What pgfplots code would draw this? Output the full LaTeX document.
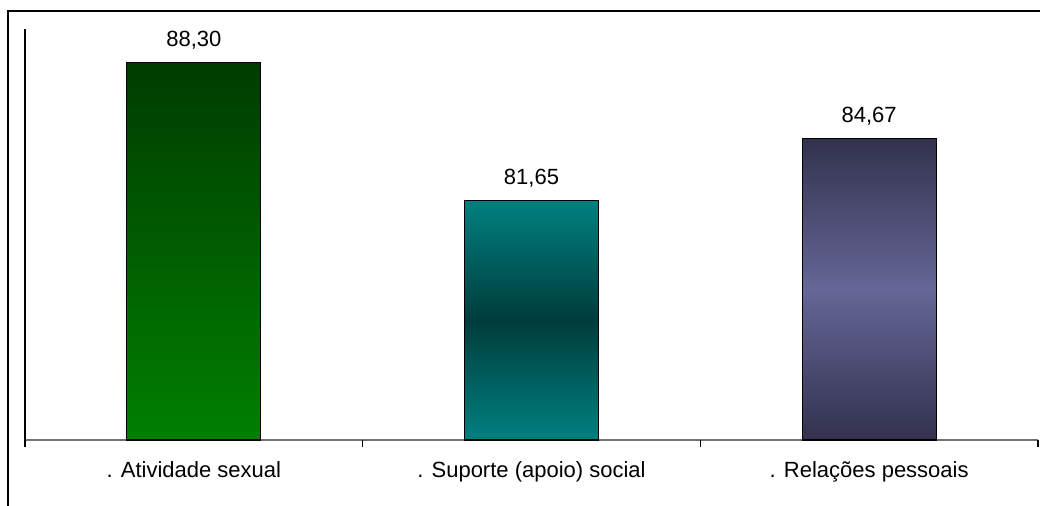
\documentclass[border=0pt]{standalone}
\usepackage{pgfplots}
\pgfplotsset{compat=1.18}
\usepackage{fontspec}
\setmainfont{Liberation Sans}

\definecolor{grnTop}{RGB}{0,60,0}
\definecolor{grnBot}{RGB}{0,128,0}
\definecolor{tealEdge}{RGB}{0,128,128}
\definecolor{tealMid}{RGB}{0,60,60}
\definecolor{slateEdge}{RGB}{50,50,78}
\definecolor{slateMid}{RGB}{102,102,152}

\begin{document}
\begin{tikzpicture}
\useasboundingbox (0,0) rectangle (520pt,253pt);
% chart area frame
\draw[line width=0.6pt] (4pt,0pt) -- (4pt,247.5pt) -- (521pt,247.5pt);
\begin{axis}[
  at={(12.5pt,33pt)}, anchor=south west,
  scale only axis, width=506.5pt, height=205.5pt,
  xmin=-0.5, xmax=2.5, ymin=70.12, ymax=89.93,
  axis x line*=bottom, axis y line*=left,
  x axis line style={-, draw=black!55, line width=0.6pt},
  y axis line style={-, draw=black, line width=0.6pt},
  ytick=\empty,
  xtick={0,1,2},
  xticklabels={. Atividade sexual, . Suporte (apoio) social, . Relações pessoais},
  major tick length=0pt,
  xticklabel style={font=\fontsize{11}{13}\selectfont, yshift=-7.5pt},
  extra x ticks={-0.5,0.5,1.5,2.5},
  extra x tick labels={},
  extra x tick style={major tick length=3.5pt, tick align=outside,
    tick style={draw=black, line width=0.6pt}},
  ybar, bar width=0.397,
  every axis plot/.append style={bar shift=0pt, draw=black, line width=0.6pt},
  nodes near coords,
  point meta=explicit symbolic,
  nodes near coords style={font=\fontsize{11}{13}\selectfont, anchor=base, yshift=8pt, inner sep=0pt},
  clip=false,
]
\addplot[top color=grnTop, bottom color=grnBot]
  coordinates {(0,88.30) [88,30]};
\addplot[top color=tealEdge, bottom color=tealEdge, middle color=tealMid]
  coordinates {(1,81.65) [81,65]};
\addplot[top color=slateEdge, bottom color=slateEdge, middle color=slateMid]
  coordinates {(2,84.67) [84,67]};
\end{axis}
\end{tikzpicture}
\end{document}
